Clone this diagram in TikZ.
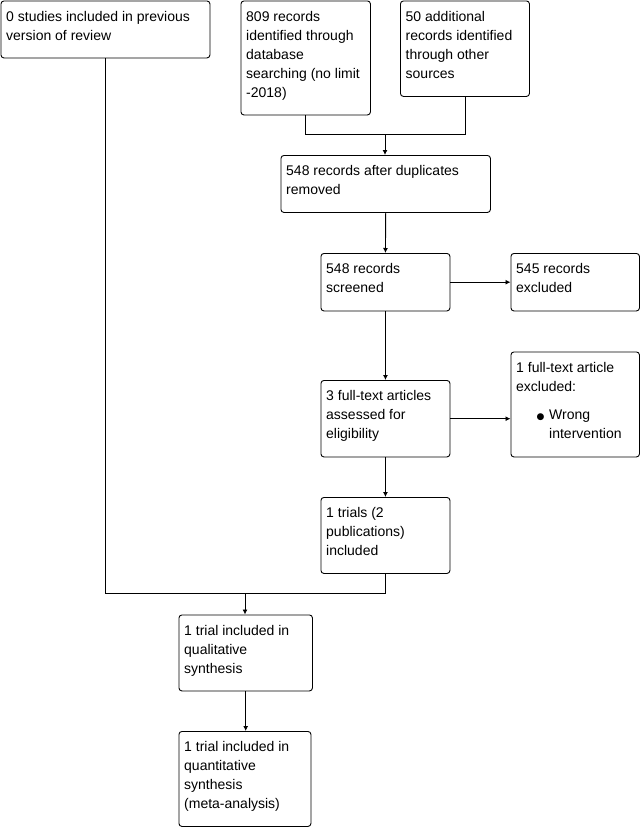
\documentclass[tikz,border=0pt]{standalone}
\usepackage{fontspec}
\setmainfont{Liberation Sans}
\newfontfamily\djfont{DejaVu Sans}
\usetikzlibrary{arrows.meta}
\tikzset{
  box/.style={draw=black, line width=0.9pt, rounded corners=3pt, inner sep=0pt, anchor=north west},
  txt/.style={anchor=north west, inner sep=0pt, align=left, font=\fontsize{14}{19}\selectfont},
  conn/.style={draw=black, line width=0.9pt},
  arr/.style={conn, -{Latex[length=5pt,width=5pt]}}
}
\newcommand\mybox[6]{%
  \node[box, minimum width=#4pt, minimum height=#5pt] (#1) at (#2,#3) {};
  \node[txt] (#1t) at ([xshift=5.5pt,yshift=-10.5pt]#1.north west) {#6};
}
\newcommand\bul{{\djfont\fontsize{9}{19}\selectfont ●}}
\begin{document}
\begin{tikzpicture}[x=1pt,y=-1pt]
\useasboundingbox (0,0) rectangle (642,827);
\mybox{A}{0.5}{0.5}{209}{57}{0 studies included in previous\\version of review}
\mybox{B}{240.5}{0.5}{129.5}{114}{809 records\\identified through\\database\\searching (no limit\\-2018)}
\mybox{C}{400}{0.5}{129}{95.5}{50 additional\\records identified\\through other\\sources}
\mybox{D}{280.5}{155}{209.5}{57}{548 records after duplicates\\removed}
\mybox{E}{320.5}{253}{129}{57.5}{548 records\\screened}
\mybox{F}{510.5}{253}{128.5}{57.5}{545 records\\excluded}
\mybox{G}{320.5}{380}{129}{76.5}{3 full-text articles\\assessed for\\eligibility}
\mybox{H}{510.5}{351.5}{128.5}{105}{1 full-text article\\excluded:\\[9pt]\hspace*{20.5pt}\makebox[12.5pt][l]{\bul}Wrong\\\hspace*{33pt}intervention}
\mybox{I}{320.5}{497}{129}{76}{1 trials (2\\publications)\\included}
\mybox{J}{178.5}{614.5}{133.5}{76}{1 trial included in\\qualitative\\synthesis}
\mybox{K}{178.5}{731}{132}{95}{1 trial included in\\quantitative\\synthesis\\(meta-analysis)}
\coordinate (m1) at (385,134.5);
\coordinate (m2) at (245,593.5);
\draw[conn] (B.south) |- (m1) -| (C.south);
\draw[arr] (m1) -- (m1 |- D.north);
\draw[arr] (D.south) -- (E.north);
\draw[arr] (E.east) -- (E.east -| F.west);
\draw[arr] (E.south) -- (G.north);
\draw[arr] (G.east) -- (G.east -| H.west);
\draw[arr] (G.south) -- (I.north);
\draw[conn] (A.south) |- (m2) -| (I.south);
\draw[arr] (m2) -- (m2 |- J.north);
\draw[arr] (J.south) -- (J.south |- K.north);
\end{tikzpicture}
\end{document}
